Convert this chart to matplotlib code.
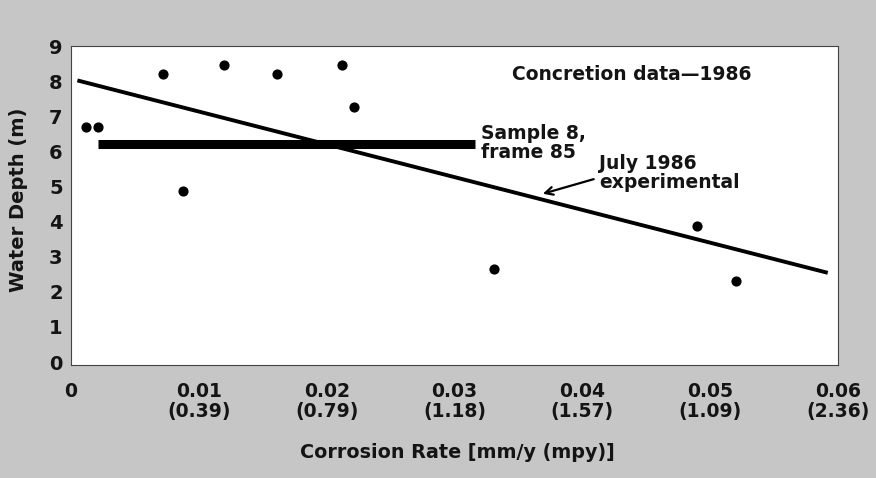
import matplotlib
matplotlib.use("Agg")
import matplotlib.pyplot as plt

# Data
pts_x = [0.00117, 0.0021, 0.0072, 0.0120, 0.0161, 0.0088, 0.0212, 0.0221, 0.0331, 0.0490, 0.0520]
pts_y = [6.69, 6.69, 8.19, 8.47, 8.19, 4.86, 8.47, 7.26, 2.66, 3.87, 2.32]
fit_x = [0.0005, 0.0592]
fit_y = [8.02, 2.54]
sample_x = [0.0021, 0.0316]
sample_y = [6.21, 6.21]
xticks = [0, 0.01, 0.02, 0.03, 0.04, 0.05, 0.06]
xtick_labels = ["0", "0.01\n(0.39)", "0.02\n(0.79)", "0.03\n(1.18)", "0.04\n(1.57)", "0.05\n(1.09)", "0.06\n(2.36)"]
yticks = [0, 1, 2, 3, 4, 5, 6, 7, 8, 9]

plt.rcParams['font.family'] = ["DejaVu Sans"]
plt.rcParams['font.weight'] = 'bold'

bg = "#c6c6c6"
ink = "#141414"
fig = plt.figure(figsize=(8.76, 4.78), dpi=100, facecolor=bg)
ax = fig.add_axes([71/876, 1 - 365/478, (838 - 71)/876, (365 - 46)/478])
ax.set_facecolor("white")

ax.plot(fit_x, fit_y, color="black", lw=2.8, solid_capstyle="butt")
ax.plot(sample_x, sample_y, color="black", lw=6.5, solid_capstyle="butt")
ax.scatter(pts_x, pts_y, s=40, color="black", zorder=3)

ax.set_xlim(0, 0.06)
ax.set_ylim(-0.085, 8.93)
ax.set_xticks(xticks)
ax.set_xticklabels(xtick_labels, fontsize=13.5, fontweight='bold', color=ink, linespacing=1.12)
ax.set_yticks(yticks)
ax.set_yticklabels([str(v) for v in yticks], fontsize=14, fontweight='bold', color=ink)
ax.tick_params(axis='both', length=0)
ax.tick_params(axis='x', pad=12)
ax.tick_params(axis='y', pad=6)

for s in ax.spines.values():
    s.set_color("#444444")
    s.set_linewidth(0.8)
    s.set_linestyle((0, (2, 1)))

ax.set_xlabel("Corrosion Rate [mm/y (mpy)]", fontsize=13.8, fontweight='bold', color=ink)
ax.xaxis.set_label_coords((457 - 71) / 767, (365 - 453) / 319)
ax.xaxis.label.set_verticalalignment('center')
ax.set_ylabel("Water Depth (m)", fontsize=14, fontweight='bold', color=ink)
ax.yaxis.set_label_coords((19 - 71) / 767, (365 - 200) / 319)
ax.yaxis.label.set_verticalalignment('center')
ax.yaxis.label.set_horizontalalignment('center')

ax.text(0.0345, 8.19, "Concretion data\u20141986", fontsize=13.5, fontweight='bold', va='center', ha='left', color=ink)
ax.text(0.0321, 6.24, "Sample 8,\nframe 85", fontsize=13.5, fontweight='bold', va='center', ha='left', color=ink, linespacing=0.95)
ax.text(0.0413, 5.38, "July 1986\nexperimental", fontsize=13.5, fontweight='bold', va='center', ha='left', color=ink, linespacing=0.95)
ax.annotate("", xy=(0.0367, 4.77), xytext=(0.0411, 5.23),
            arrowprops=dict(arrowstyle="->", lw=1.6, color="black", mutation_scale=14))

fig.savefig("out.png", dpi=100, facecolor=bg)
